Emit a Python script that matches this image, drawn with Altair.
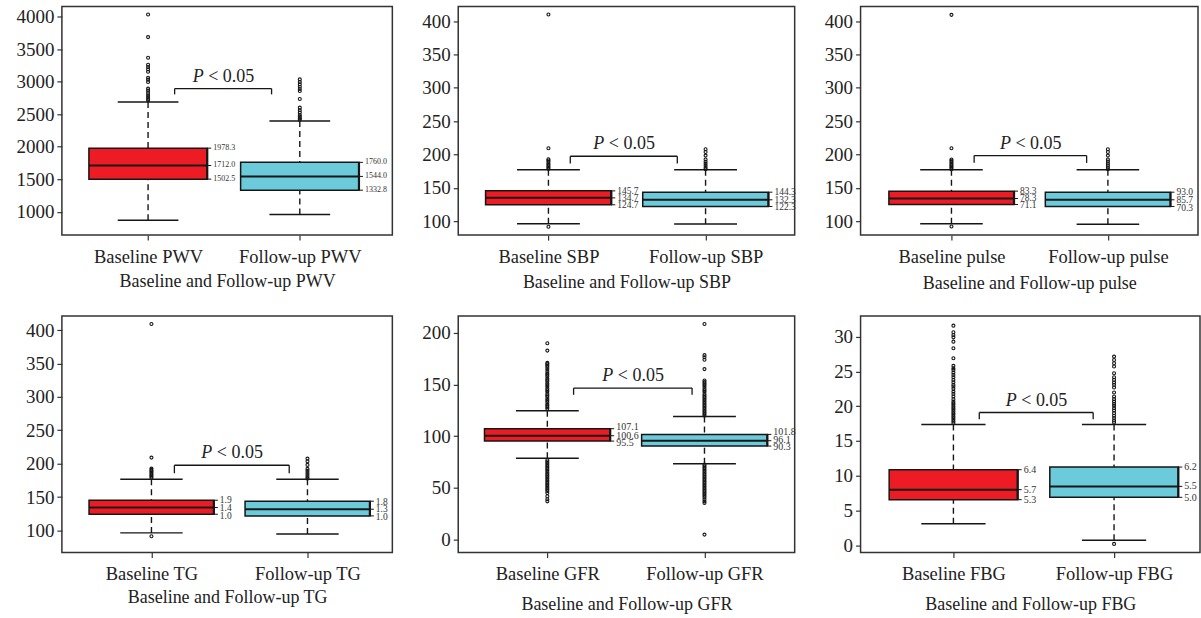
import altair as alt
import pandas as pd

FONT = "Liberation Serif"
RED = "#ED1C24"
CYAN = "#6BCBDB"
INK = "#161616"

# ---------------- data ----------------
# box statistics: [lower whisker, Q1, median, Q3, upper whisker]
PWV_BASE = [873, 1502.5, 1712.0, 1978.3, 2686]
PWV_FOLLOW = [960, 1332.8, 1544.0, 1760.0, 2395]
PWV_BASE_OUT = [4031, 3683, 3367, 3259, 3223, 3188, 3152, 3060, 3030, 2993, 2892, 2861, 2824, 2789, 2763, 2732, 2712]
PWV_FOLLOW_OUT = [3034, 2993, 2958, 2922, 2886, 2855, 2732, 2600, 2559, 2524, 2487, 2462, 2436, 2416]
PWV_BASE_TXT = ["1978.3", "1712.0", "1502.5"]
PWV_BASE_TXT_Y = [1978.3, 1712.0, 1502.5]
PWV_FOLLOW_TXT = ["1760.0", "1544.0", "1332.8"]
PWV_FOLLOW_TXT_Y = [1760.0, 1544.0, 1332.8]
PWV_BRACKET = [1.175, 1.814, 2892, 2804]

SBP_BASE = [96.0, 124.5, 134.9, 145.4, 176.9]
SBP_FOLLOW = [95.5, 122.0, 132.0, 143.4, 176.9]
SBP_BASE_OUT = [410, 209.3, 192.9, 190.9, 188.9, 186.4, 184.4, 182.4, 180.4, 178.4, 91.5]
SBP_FOLLOW_OUT = [207.8, 203.8, 198.3, 192.4, 188.9, 185.9, 182.9, 179.9, 177.9]
SBP_BASE_TXT = ["145.7", "134.7", "124.7"]
SBP_BASE_TXT_Y = [145.4, 134.9, 124.5]
SBP_FOLLOW_TXT = ["144.3", "132.3", "122.3"]
SBP_FOLLOW_TXT_Y = [143.4, 132.0, 120.8]
SBP_BRACKET = [1.139, 1.82, 197.3, 186.4]

PULSE_BASE = [96.0, 124.9, 133.9, 145.0, 176.9]
PULSE_FOLLOW = [95.3, 122.0, 132.0, 143.4, 176.9]
PULSE_BASE_OUT = [409.5, 209.3, 192.5, 190.5, 188.5, 186.0, 184.0, 182.0, 180.0, 178.0, 92.0]
PULSE_FOLLOW_OUT = [207.8, 203.8, 198.3, 192.4, 189.4, 186.4, 183.4, 180.4, 177.9]
PULSE_BASE_TXT = ["83.3", "78.3", "71.1"]
PULSE_BASE_TXT_Y = [145.0, 134.9, 124.5]
PULSE_FOLLOW_TXT = ["93.0", "85.7", "70.3"]
PULSE_FOLLOW_TXT_Y = [143.4, 132.0, 120.4]
PULSE_BRACKET = [1.145, 1.864, 198.3, 187.4]

TG_BASE = [96.5, 124.4, 134.4, 145.3, 176.7]
TG_FOLLOW = [95.0, 121.9, 131.9, 143.9, 176.7]
TG_BASE_OUT = [409, 209.1, 192.7, 190.7, 188.7, 186.7, 184.7, 182.7, 180.7, 178.7, 91.5]
TG_FOLLOW_OUT = [207.6, 203.6, 198.2, 192.2, 189.2, 186.2, 183.2, 180.2, 177.7]
TG_BASE_TXT = ["1.9", "1.4", "1.0"]
TG_BASE_TXT_Y = [145.3, 134.4, 122.4]
TG_FOLLOW_TXT = ["1.8", "1.3", "1.0"]
TG_FOLLOW_TXT_Y = [142.9, 131.9, 120.9]
TG_BRACKET = [1.147, 1.883, 197.7, 185.7]

GFR_BASE = [78.6, 95.3, 100.5, 107.3, 124.6]
GFR_FOLLOW = [73.4, 90.5, 95.7, 101.8, 119.2]
GFR_BASE_OUT = [190, 182.9, 171, 170, 168.5, 167, 165, 163, 161, 159.5, 158, 156, 154.5, 153, 151,
                149.5, 148, 146, 144.5, 143, 141, 139.5, 138, 136, 134.5, 133, 131, 129.5, 128, 126.5,
                77, 75.5, 74, 72.5, 71, 69.5, 68, 66.5, 65, 63.5, 62, 60.5, 59, 57.5, 56, 54.5, 53,
                51.5, 50, 48.5, 47, 45, 42, 39, 37]
GFR_FOLLOW_OUT = [208.7, 178.5, 176.5, 174, 165, 154, 152.5, 151, 149.5, 148, 146, 144.5, 143, 141,
                  139.5, 138, 136.5, 135, 133.5, 132, 130.5, 129, 127.5, 126, 124.5, 123, 121.5, 120,
                  72.5, 71, 69.5, 68, 66.5, 65, 63.5, 62, 60.5, 59, 57.5, 56, 54.5, 53, 51.5, 50, 48.5,
                  47, 45.5, 44, 42.5, 41, 39, 37, 35.5, 4.8]
GFR_BASE_TXT = ["107.1", "100.6", "95.5"]
GFR_BASE_TXT_Y = [108.9, 100.5, 93.1]
GFR_FOLLOW_TXT = ["101.8", "96.1", "90.3"]
GFR_FOLLOW_TXT_Y = [104.0, 96.6, 89.5]
GFR_BRACKET = [1.167, 1.921, 146.6, 140.1]

FBG_BASE = [3.1, 6.56, 8.0, 10.87, 17.37]
FBG_FOLLOW = [0.72, 6.9, 8.47, 11.25, 17.37]
FBG_BASE_OUT = [31.58, 30.63, 30.24, 29.9, 29.28, 28.33, 26.9, 25.8, 25.46, 25.22, 24.83, 24.5, 24.17,
                23.78, 23.45, 23.07, 22.83, 22.49, 22.1, 21.77, 21.39, 21.01, 20.67, 20.44, 20.2, 19.95,
                19.72, 19.48, 19.23, 19.0, 18.76, 18.52, 18.29, 18.04, 17.8, 17.57]
FBG_FOLLOW_OUT = [27.13, 26.65, 26.18, 25.7, 24.74, 24.17, 23.78, 23.4, 23.07, 22.68, 21.96, 21.39,
                  21.01, 20.67, 20.34, 20.05, 19.72, 19.38, 19.0, 18.62, 18.29, 17.94, 17.66, 0.2]
FBG_BASE_TXT = ["6.4", "5.7", "5.3"]
FBG_BASE_TXT_Y = [10.87, 8.0, 6.56]
FBG_FOLLOW_TXT = ["6.2", "5.5", "5.0"]
FBG_FOLLOW_TXT_Y = [11.3, 8.47, 6.8]
FBG_BRACKET = [1.161, 1.87, 19.09, 18.14]

GROUPS = ["Baseline", "Follow-up"]


def panel(key, base, fol, base_out, fol_out, base_txt, base_txt_y, fol_txt, fol_txt_y,
          bracket, ydom, yticks, xdom, w, h, txt_size, title_pad, half=0.40, cap=0.20):
    xscale = alt.Scale(domain=xdom, nice=False, zero=False)
    yscale = alt.Scale(domain=ydom, nice=False, zero=False)
    xaxis = alt.Axis(values=[1, 2],
                     labelExpr=f"datum.value == 1 ? 'Baseline {key}' : 'Follow-up {key}'",
                     title=f"Baseline and Follow-up {key}", grid=False, domain=False,
                     tickSize=5, tickColor="#333", tickWidth=1.2, labelPadding=7,
                     titlePadding=title_pad, labelFont=FONT, labelFontSize=18.5,
                     titleFont=FONT, titleFontSize=18, titleFontWeight="normal",
                     labelColor="#222", titleColor="#222", labelOverlap=False)
    yaxis = alt.Axis(values=yticks, format="d", title=None, grid=False, domain=False, tickSize=5,
                     tickColor="#333", tickWidth=1.2, labelPadding=3, labelFont=FONT,
                     labelFontSize=19, labelColor="#222", labelOverlap=False)

    def X(f):
        return alt.X(f, type="quantitative", scale=xscale, axis=xaxis)

    def Y(f):
        return alt.Y(f, type="quantitative", scale=yscale, axis=yaxis)

    box = pd.DataFrame({
        "g": [1, 2], "grp": GROUPS,
        "lo": [base[0], fol[0]], "q1": [base[1], fol[1]], "med": [base[2], fol[2]],
        "q3": [base[3], fol[3]], "hi": [base[4], fol[4]],
    })
    calc = dict(xl=f"datum.g - {half}", xr=f"datum.g + {half}",
                cl=f"datum.g - {cap}", cr=f"datum.g + {cap}")
    b = alt.Chart(box).transform_calculate(**calc)

    dash_hi = b.mark_rule(strokeDash=[6, 4], strokeWidth=1.4, color=INK).encode(
        x=X("g"), y=Y("hi"), y2=alt.Y2("q3"))
    dash_lo = b.mark_rule(strokeDash=[6, 4], strokeWidth=1.4, color=INK).encode(
        x=X("g"), y=Y("lo"), y2=alt.Y2("q1"))
    cap_hi = b.mark_rule(strokeWidth=1.5, color=INK).encode(x=X("cl"), x2=alt.X2("cr"), y=Y("hi"))
    cap_lo = b.mark_rule(strokeWidth=1.5, color=INK).encode(x=X("cl"), x2=alt.X2("cr"), y=Y("lo"))
    rect = b.mark_rect(stroke=INK, strokeWidth=1.5).encode(
        x=X("xl"), x2=alt.X2("xr"), y=Y("q1"), y2=alt.Y2("q3"),
        color=alt.Color("grp:N", scale=alt.Scale(domain=GROUPS, range=[RED, CYAN]), legend=None))
    med = b.mark_rule(strokeWidth=2, color=INK).encode(x=X("xl"), x2=alt.X2("xr"), y=Y("med"))
    edge = b.mark_rule(strokeWidth=2.2, color=INK).encode(x=X("xr"), y=Y("q1"), y2=alt.Y2("q3"))

    ticks = pd.DataFrame({"g": [1] * 3 + [2] * 3, "v": base[1:4] + fol[1:4]})
    tick = alt.Chart(ticks).transform_calculate(xr=f"datum.g + {half}").mark_rule(
        strokeWidth=1, color=INK, x2Offset=4).encode(x=X("xr"), x2=alt.X2("xr"), y=Y("v"))

    outs = pd.DataFrame({"g": [1] * len(base_out) + [2] * len(fol_out), "v": base_out + fol_out})
    pts = alt.Chart(outs).mark_point(shape="circle", filled=False, size=9, strokeWidth=1.1,
                                     color=INK, opacity=1).encode(x=X("g"), y=Y("v"))

    labs = pd.DataFrame({"g": [1] * 3 + [2] * 3, "t": base_txt + fol_txt, "v": base_txt_y + fol_txt_y})
    lab = alt.Chart(labs).transform_calculate(xr=f"datum.g + {half}").mark_text(
        align="left", baseline="middle", dx=6, font=FONT, fontSize=txt_size, color="#333").encode(
        x=X("xr"), y=Y("v"), text="t:N")

    brh = pd.DataFrame({"x1": [bracket[0]], "x2": [bracket[1]], "y": [bracket[2]]})
    brv = pd.DataFrame({"bx": [bracket[0], bracket[1]], "y1": [bracket[2]] * 2, "y2": [bracket[3]] * 2})
    br1 = alt.Chart(brh).mark_rule(strokeWidth=1.3, color=INK).encode(
        x=X("x1"), x2=alt.X2("x2"), y=Y("y"))
    br2 = alt.Chart(brv).mark_rule(strokeWidth=1.3, color=INK).encode(
        x=X("bx"), y=Y("y1"), y2=alt.Y2("y2"))
    pt = pd.DataFrame({"cx": [(bracket[0] + bracket[1]) / 2], "y": [bracket[2]]})
    p1 = alt.Chart(pt).mark_text(text="P", fontStyle="italic", align="right", baseline="alphabetic",
                                 dx=-19.5, dy=-7, font=FONT, fontSize=18, color="#222").encode(
        x=X("cx"), y=Y("y"))
    p2 = alt.Chart(pt).mark_text(text="< 0.05", align="left", baseline="alphabetic",
                                 dx=-15, dy=-7, font=FONT, fontSize=18, color="#222").encode(
        x=X("cx"), y=Y("y"))

    return alt.layer(dash_hi, dash_lo, cap_hi, cap_lo, rect, med, edge, tick, pts, lab,
                     br1, br2, p1, p2).properties(width=w, height=h)


Y400 = [100, 150, 200, 250, 300, 350, 400]
charts = [
    panel("PWV", PWV_BASE, PWV_FOLLOW, PWV_BASE_OUT, PWV_FOLLOW_OUT, PWV_BASE_TXT, PWV_BASE_TXT_Y,
          PWV_FOLLOW_TXT, PWV_FOLLOW_TXT_Y, PWV_BRACKET, [643, 4153],
          [1000, 1500, 2000, 2500, 3000, 3500, 4000], [0.432, 2.610], 331, 229, 8, 7, half=0.39),
    panel("SBP", SBP_BASE, SBP_FOLLOW, SBP_BASE_OUT, SBP_FOLLOW_OUT, SBP_BASE_TXT, SBP_BASE_TXT_Y,
          SBP_FOLLOW_TXT, SBP_FOLLOW_TXT_Y, SBP_BRACKET, [79, 422], Y400, [0.426, 2.567], 337, 229, 9.5, 8),
    panel("pulse", PULSE_BASE, PULSE_FOLLOW, PULSE_BASE_OUT, PULSE_FOLLOW_OUT, PULSE_BASE_TXT,
          PULSE_BASE_TXT_Y, PULSE_FOLLOW_TXT, PULSE_FOLLOW_TXT_Y, PULSE_BRACKET, [79, 422], Y400,
          [0.419, 2.576], 338, 229, 9.5, 9),
    panel("TG", TG_BASE, TG_FOLLOW, TG_BASE_OUT, TG_FOLLOW_OUT, TG_BASE_TXT, TG_BASE_TXT_Y,
          TG_FOLLOW_TXT, TG_FOLLOW_TXT_Y, TG_BRACKET, [67, 421], Y400, [0.426, 2.544], 331, 237, 9.5, 5),
    panel("GFR", GFR_BASE, GFR_FOLLOW, GFR_BASE_OUT, GFR_FOLLOW_OUT, GFR_BASE_TXT, GFR_BASE_TXT_Y,
          GFR_FOLLOW_TXT, GFR_FOLLOW_TXT_Y, GFR_BRACKET, [-12.6, 216.4], [0, 50, 100, 150, 200],
          [0.433, 2.574], 337, 237, 10, 13),
    panel("FBG", FBG_BASE, FBG_FOLLOW, FBG_BASE_OUT, FBG_FOLLOW_OUT, FBG_BASE_TXT, FBG_BASE_TXT_Y,
          FBG_FOLLOW_TXT, FBG_FOLLOW_TXT_Y, FBG_BRACKET, [-1.05, 32.97], [0, 5, 10, 15, 20, 25, 30],
          [0.422, 2.535], 340, 237, 10, 13),
]

chart = alt.concat(*charts, columns=3, spacing={"row": 81, "column": 66},
                   bounds="flush", align="each").properties(
    padding={"left": 15, "top": 5, "right": 0, "bottom": 0}
).configure(
    background="white",
    view=alt.ViewConfig(stroke="#333", strokeWidth=1.5),
)

chart.save("out.html", embed_options={"renderer": "svg", "actions": False})
